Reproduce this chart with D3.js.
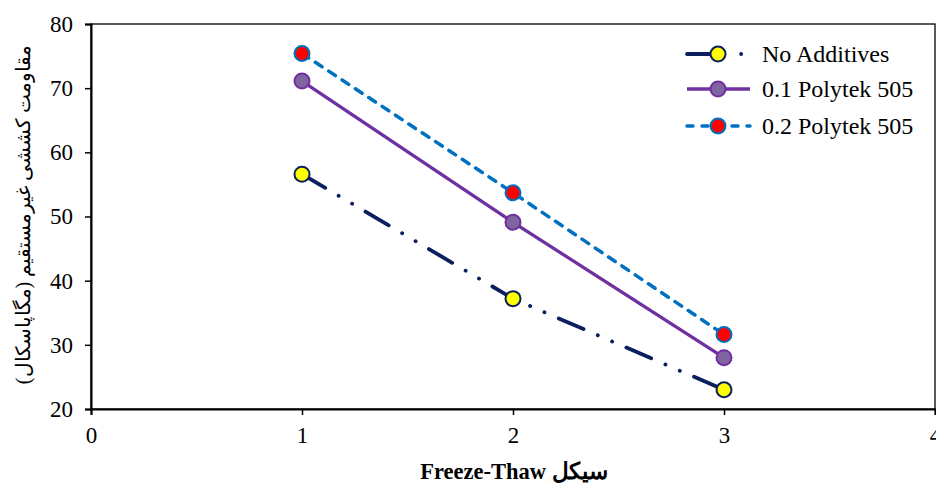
<!DOCTYPE html>
<html><head><meta charset="utf-8">
<script src="https://cdn.jsdelivr.net/npm/d3@7"></script>
</head><body style="margin:0">
<svg id="c" width="936" height="486" style="display:block;font-family:'Liberation Serif','Times New Roman',serif"></svg>
<script>
const cycles = [1, 2, 3];
const noAdditives = [56.6, 37.2, 23.0];
const poly01 = [71.1, 49.1, 28.0];
const poly02 = [75.4, 53.7, 31.6];
const seriesNames = ["No Additives", "0.1 Polytek 505", "0.2 Polytek 505"];
const xTicks = [0, 1, 2, 3, 4];
const yTicks = [20, 30, 40, 50, 60, 70, 80];
const yTitle = "مقاومت کششی غیرمستقیم (مگاپاسکال)";
const xTitle = "سیکل Freeze-Thaw";

const styles = [
  {line: "#0b1f5e", dash: "27 15.5 0.1 15.5 0.1 15.5", cap: "round", fill: "#ffff00", stroke: "#0b1f5e", w: 3.8},
  {line: "#7030a0", dash: null, cap: "butt", fill: "#8064a2", stroke: "#7030a0", w: 3.3},
  {line: "#0070c0", dash: "8 8", cap: "round", fill: "#ff0000", stroke: "#0070c0", w: 3.5}
];
const data = [noAdditives, poly01, poly02];
const SERIF = '"Liberation Serif"';

const svg = d3.select("#c");
const L = 91, R = 935, T = 24, B = 409;
const x = d3.scaleLinear().domain([0, 4]).range([L, R]);
const y = d3.scaleLinear().domain([20, 80]).range([B, T]);

svg.append("rect").attr("x", L).attr("y", T).attr("width", R - L).attr("height", B - T)
  .attr("fill", "none").attr("stroke", "#000").attr("stroke-width", 1.3);

const xa = svg.append("g").attr("transform", `translate(0,${B})`)
  .call(d3.axisBottom(x).tickValues(xTicks).tickSize(6).tickPadding(12).tickFormat(d3.format("d")));
const ya = svg.append("g").attr("transform", `translate(${L},0)`)
  .call(d3.axisLeft(y).tickValues(yTicks).tickSize(6).tickPadding(12));
[xa, ya].forEach(a => {
  a.attr("font-family", SERIF).attr("font-size", 23);
  a.select(".domain").attr("stroke", "#000").attr("stroke-width", 2);
  a.selectAll(".tick line").attr("stroke", "#000").attr("stroke-width", 1.5);
  a.selectAll("text").style("font-family", SERIF).style("font-size", "23px").attr("fill", "#000");
});

const line = d3.line().x((d, i) => x(cycles[i])).y(d => y(d));
[0, 1, 2].forEach(k => {
  const s = styles[k];
  svg.append("path").datum(data[k]).attr("d", line)
    .attr("fill", "none").attr("stroke", s.line).attr("stroke-width", s.w)
    .attr("stroke-linecap", s.cap)
    .attr("stroke-dasharray", s.dash);
});
[0, 1, 2].forEach(k => {
  const s = styles[k];
  svg.append("g").selectAll("circle").data(data[k]).join("circle")
    .attr("cx", (d, i) => x(cycles[i])).attr("cy", d => y(d)).attr("r", 7.5)
    .attr("fill", s.fill).attr("stroke", s.stroke).attr("stroke-width", 2);
});

const legY = [54, 89, 126];
seriesNames.forEach((n, k) => {
  const s = styles[k];
  svg.append("line").attr("x1", 687).attr("x2", 750).attr("y1", legY[k]).attr("y2", legY[k])
    .attr("stroke", s.line).attr("stroke-width", s.w).attr("stroke-linecap", s.cap)
    .attr("stroke-dasharray", k === 0 ? "24 10 0.1 20 0.1 20" : (k === 2 ? "6 9" : null));
  svg.append("circle").attr("cx", 718).attr("cy", legY[k]).attr("r", 7.5)
    .attr("fill", s.fill).attr("stroke", s.stroke).attr("stroke-width", 2);
  svg.append("text").attr("x", 762).attr("y", legY[k] + 8)
    .style("font-family", SERIF).style("font-size", "24px").text(n);
});

svg.append("text").attr("transform", `translate(30,${(T + B) / 2 - 2}) rotate(-90)`)
  .attr("text-anchor", "middle").style("font-family", SERIF)
  .style("font-size", "20px").text(yTitle);
svg.append("text").attr("x", 514).attr("y", 479).attr("text-anchor", "middle")
  .attr("direction", "rtl").style("font-family", SERIF).style("font-weight", "bold")
  .style("font-size", "22.5px").text(xTitle);
</script>
</body></html>
